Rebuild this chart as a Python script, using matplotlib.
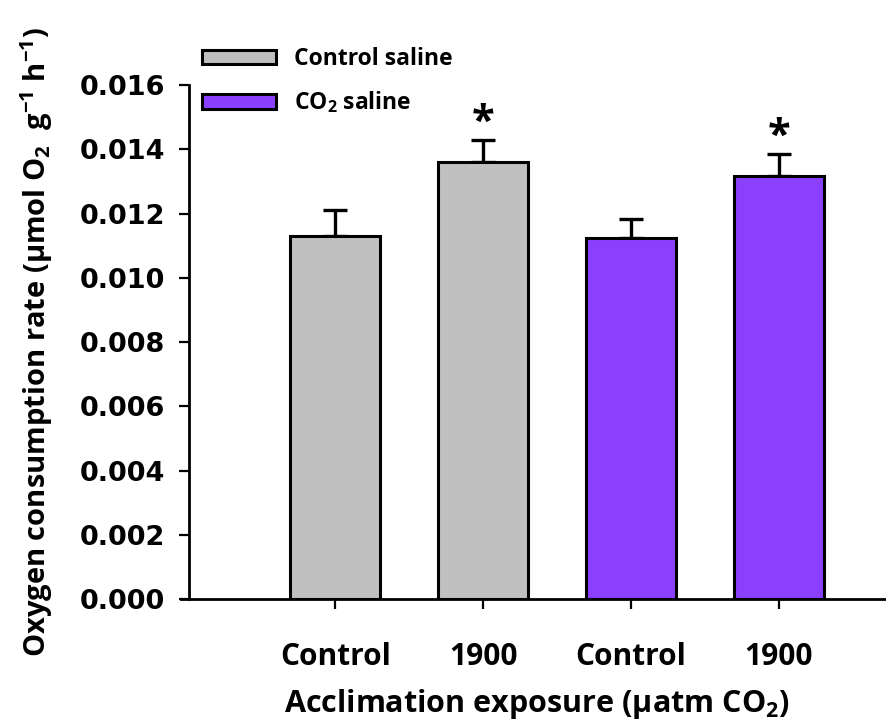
import matplotlib
matplotlib.use("Agg")
import matplotlib.pyplot as plt
from matplotlib.patches import Patch

categories = ["Control", "1900", "Control", "1900"]
groups = ["Control saline", "Control saline", "CO$_2$ saline", "CO$_2$ saline"]
values = [0.01130, 0.01361, 0.01125, 0.01318]
errors = [0.00081, 0.00067, 0.00057, 0.00067]
significant = [False, True, False, True]
colors = {"Control saline": "#c0c0c0", "CO$_2$ saline": "#8c40ff"}
yticks = [0.000, 0.002, 0.004, 0.006, 0.008, 0.010, 0.012, 0.014, 0.016]

FONT = "Open Sans"
plt.rcParams['mathtext.fontset'] = 'custom'
plt.rcParams['mathtext.rm'] = 'Open Sans:bold'
plt.rcParams['mathtext.it'] = 'Open Sans:bold'
plt.rcParams['mathtext.bf'] = 'Open Sans:bold'
plt.rcParams['mathtext.default'] = 'rm'

fig = plt.figure(figsize=(8.87, 7.21), dpi=100)
ax = fig.add_axes([0.213, 0.169, 0.785, 0.713])

x = list(range(len(values)))
barcolors = [colors[g] for g in groups]
ax.bar(x, values, width=0.61, color=barcolors, edgecolor="black", linewidth=2.2, zorder=2)
ax.errorbar(x, values, yerr=[[0]*len(errors), errors], fmt="none", ecolor="black",
            elinewidth=2.4, capsize=8.5, capthick=2.4, zorder=1)

for xi, v, e, s in zip(x, values, errors, significant):
    if s:
        ax.text(xi, v + e - 0.00012, "*", ha="center", va="bottom", fontsize=30,
                fontweight="bold", family=FONT)

xmin, xmax = -0.99, 3.72
ax.set_xlim(xmin, xmax)
ax.set_ylim(0, 0.016)
ax.set_yticks(yticks)
ax.set_yticklabels([f"{t:.3f}" for t in yticks], fontsize=19.5, fontweight="bold",
                   family="DejaVu Sans")
ax.set_xticks(x)
ax.set_xticklabels(categories, fontsize=21.5, fontweight="bold", family=FONT)

for s in ["top", "right"]:
    ax.spines[s].set_visible(False)
for s in ["left", "bottom"]:
    ax.spines[s].set_linewidth(2.0)
ax.spines["bottom"].set_bounds(xmin - 0.055, xmax)
ax.tick_params(axis="y", direction="out", length=7, width=1.6, pad=10)
ax.tick_params(axis="x", direction="out", length=7, width=1.6, pad=24)

ax.set_xlabel("Acclimation exposure (μatm CO$_2$)", fontsize=22, fontweight="bold",
              family=FONT, labelpad=11)
ax.set_ylabel("Oxygen consumption rate (μmol O$_2$  g$^{-1}$ h$^{-1}$)", fontsize=21,
              fontweight="bold", family=FONT, labelpad=18)

handles = [Patch(facecolor=colors["Control saline"], edgecolor="black", linewidth=2.2),
           Patch(facecolor=colors["CO$_2$ saline"], edgecolor="black", linewidth=2.2)]
leg = fig.legend(handles, ["Control saline", "CO$_2$ saline"], loc="upper left",
                 bbox_to_anchor=(0.205, 0.963), frameon=False,
                 prop={"family": FONT, "weight": "bold", "size": 16.5},
                 handlelength=3.2, handleheight=0.6, labelspacing=0.8, handletextpad=0.8)

fig.savefig("out.png", dpi=100)
